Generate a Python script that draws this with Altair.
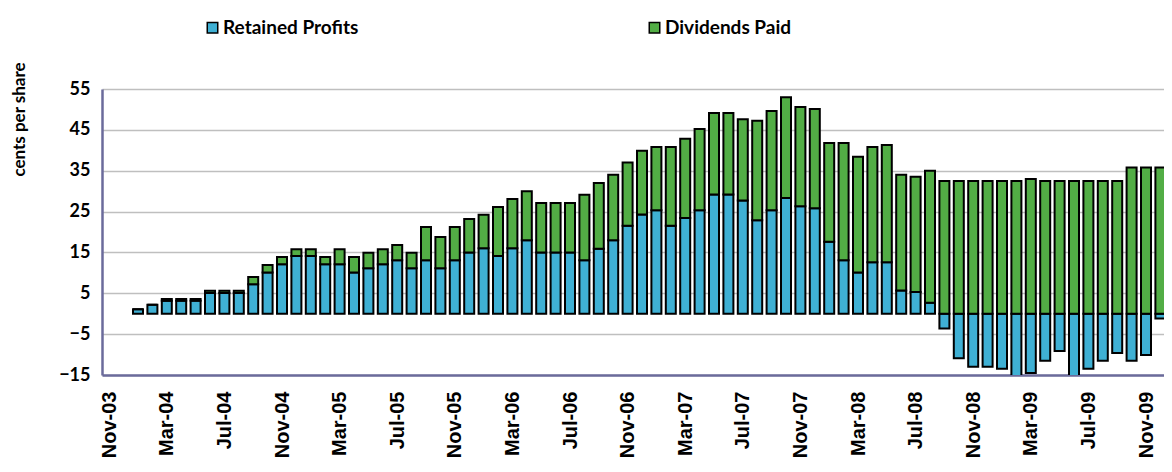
import altair as alt
import pandas as pd

# Month categories on the axis (Nov-03 .. Jan-10)
mon_names = ["Jan", "Feb", "Mar", "Apr", "May", "Jun", "Jul", "Aug", "Sep", "Oct", "Nov", "Dec"]
months = ["Nov-03", "Dec-03"] + [f"{m}-{y:02d}" for y in range(4, 10) for m in mon_names] + ["Jan-10"]

# Months that have bars (Jan-04 .. Jan-10)
bar_months = months[2:]

retained = [
    1.1, 2.2, 3.2, 3.2, 3.2, 5.1, 5.1, 5.1, 7.2, 10.1, 12.1, 14.1,
    14.1, 12.1, 12.1, 10.1, 11.1, 12.1, 13.1, 11.1, 13.1, 11.1, 13.1, 15.0,
    16.0, 14.1, 16.0, 18.0, 15.0, 15.0, 15.0, 13.1, 15.9, 18.0, 21.5, 24.3,
    25.3, 21.5, 23.4, 25.3, 29.2, 29.2, 27.7, 22.9, 25.3, 28.3, 26.3, 25.8,
    17.6, 13.1, 10.1, 12.6, 12.6, 5.7, 5.3, 2.7, -3.6, -10.9, -13.0, -13.0,
    -13.5, -16.5, -14.5, -11.5, -9.1, -17.0, -13.5, -11.5, -9.6, -11.5, -10.1, -1.2,
    -4.8,
]
dividends = [
    0.0, 0.0, 0.4, 0.4, 0.4, 0.5, 0.5, 0.5, 1.8, 1.8, 1.8, 1.7,
    1.7, 1.8, 3.7, 3.8, 3.8, 3.7, 3.7, 3.8, 8.1, 7.7, 8.1, 8.2,
    8.2, 12.0, 12.1, 12.0, 12.1, 12.1, 12.1, 16.0, 16.1, 16.0, 15.5, 15.6,
    15.5, 19.3, 19.4, 19.9, 19.9, 19.9, 19.9, 24.3, 24.3, 24.7, 24.3, 24.3,
    24.2, 28.7, 28.3, 28.2, 28.7, 28.3, 28.2, 32.3, 32.5, 32.5, 32.5, 32.5,
    32.5, 32.5, 33.0, 32.5, 32.5, 32.5, 32.5, 32.5, 32.5, 35.8, 35.8, 35.8,
    35.8,
]

series_names = ["Retained Profits", "Dividends Paid"]
series_colors = ["#3fb0d4", "#52ad45"]
y_ticks = [-15, -5, 5, 15, 25, 35, 45, 55]
x_label_months = months[::4]
x_label_idx = list(range(0, len(months), 4))

rows = []
for m, r, d in zip(bar_months, retained, dividends):
    i = months.index(m)
    rows.append({"month": m, "idx": i, "series": series_names[0], "value": r, "ord": 0})
    rows.append({"month": m, "idx": i, "series": series_names[1], "value": d, "ord": 1})
df = pd.DataFrame(rows)

label_list = "[" + ",".join(f"'{s}'" for s in x_label_months) + "]"

AXIS_COLOR = "#6b6b9b"

chart = alt.Chart(df).mark_bar(
    size=10, stroke="black", strokeWidth=2, clip=True
).encode(
    x=alt.X(
        "idx:Q",
        scale=alt.Scale(domain=[-0.5, 73.25], nice=False, zero=False, padding=0),
        axis=alt.Axis(
            title=None,
            values=x_label_idx,
            labelExpr=f"{label_list}[round(datum.value / 4)]",
            labelAngle=270,
            labelAlign="right",
            labelBaseline="middle",
            labelFont="Liberation Sans",
            labelFontWeight="bold",
            labelFontSize=20,
            labelColor="black",
            labelPadding=16,
            labelFlush=False,
            labelOverlap=False,
            ticks=False,
            grid=False,
            domainColor=AXIS_COLOR,
            domainWidth=2.5,
        ),
    ),
    y=alt.Y(
        "value:Q",
        stack="zero",
        scale=alt.Scale(domain=[-15, 55], nice=False, zero=False),
        axis=alt.Axis(
            title="cents per share",
            titleFont="Lato",
            titleFontWeight="bold",
            titleFontSize=17,
            titleColor="black",
            titleX=-83,
            titleY=30,
            titleAngle=270,
            titleAlign="center",
            titleBaseline="middle",
            values=y_ticks,
            labelFont="Lato",
            labelFontWeight="bold",
            labelFontSize=18,
            labelColor="black",
            labelPadding=12,
            ticks=False,
            grid=True,
            gridColor="#bfbfbf",
            gridWidth=1.5,
            domainColor=AXIS_COLOR,
            domainWidth=2.5,
        ),
    ),
    color=alt.Color(
        "series:N",
        scale=alt.Scale(domain=series_names, range=series_colors),
        legend=alt.Legend(
            title=None,
            orient="none",
            legendX=101,
            legendY=-71,
            direction="horizontal",
            symbolType="square",
            symbolSize=110,
            symbolStrokeColor="black",
            symbolStrokeWidth=1.5,
            symbolOpacity=1,
            labelFont="Lato",
            labelFontWeight="bold",
            labelFontSize=19,
            labelColor="black",
            labelOffset=1,
            columnPadding=286,
            labelLimit=400,
        ),
    ),
    order=alt.Order("ord:Q"),
).properties(
    width=1062,
    height=286,
    autosize=alt.AutoSizeParams(type="none"),
    padding={"left": 94, "top": 81, "right": 0, "bottom": 82},
).configure_view(strokeWidth=0)

chart.save("out.html", embed_options={"renderer": "svg", "actions": False})
